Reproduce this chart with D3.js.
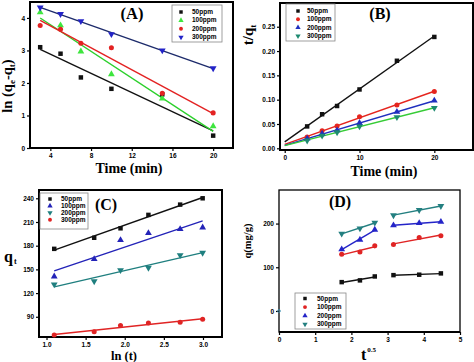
<!DOCTYPE html>
<html>
<head>
<meta charset="utf-8">
<script src="https://cdn.jsdelivr.net/npm/d3@7"></script>
<style>
  body { margin: 0; background: #fff; }
  .tick text { font-family: 'Liberation Sans', Arial, sans-serif; font-weight: bold; font-size: 6.5px; }
  .ttl { font-family: 'Liberation Serif', 'Times New Roman', serif; font-weight: bold; }
  .leg { font-family: 'Liberation Sans', Arial, sans-serif; font-weight: bold; font-size: 6.5px; }
</style>
</head>
<body>
<svg id="chart" width="474" height="362"></svg>
<script>

var names = [ '50ppm', '100ppm', '200ppm', '300ppm' ];

// contact times and their transforms
var times = [ 3, 5, 7, 10, 15, 20 ];
var lnTimes = [ 1.0986, 1.6094, 1.9459, 2.3026, 2.7081, 2.9957 ];
var sqrtTimes = [ 1.732, 2.236, 2.646, 3.162, 3.873, 4.472 ];

// (A) pseudo-first-order: ln(qe-qt)
var a50 = [ 3.10, 2.90, 2.17, 1.82, 1.65, 0.38 ];
var a100 = [ 4.17, 3.77, 2.97, 2.27, 1.52, 0.67 ];
var a200 = [ 3.77, 3.65, 3.22, 3.08, 1.68, 1.08 ];
var a300 = [ 4.32, 4.12, 3.90, 3.50, 3.00, 2.45 ];

// (B) pseudo-second-order: t/qt
var b50 = [ 0.045, 0.070, 0.087, 0.121, 0.180, 0.229 ];
var b100 = [ 0.023, 0.036, 0.046, 0.065, 0.089, 0.117 ];
var b200 = [ 0.020, 0.030, 0.037, 0.052, 0.075, 0.098 ];
var b300 = [ 0.016, 0.026, 0.033, 0.045, 0.064, 0.083 ];

// (C) Elovich: qt vs ln(t)
var c50 = [ 176, 190, 202, 219, 232, 240 ];
var c100 = [ 141, 163, 187, 196, 201, 203 ];
var c200 = [ 131, 135, 149, 152, 168, 171 ];
var c300 = [ 67, 71, 79, 82, 83, 87 ];

// (D) intraparticle diffusion: q vs t^0.5
var d50 = [ 66, 70, 79, 82, 83, 86 ];
var d100 = [ 130, 135, 149, 152, 168, 172 ];
var d200 = [ 141, 163, 186, 196, 201, 204 ];
var d300 = [ 177, 189, 202, 219, 231, 240 ];
var dOrigin = [ 0, 0 ];

var aTicksX = [ 4, 8, 12, 16, 20 ], aTicksY = [ 0, 1, 2, 3, 4 ];
var bTicksX = [ 0, 10, 20 ], bTicksY = [ 0, 0.05, 0.10, 0.15, 0.20, 0.25 ];
var cTicksX = [ 1.0, 1.5, 2.0, 2.5, 3.0 ], cTicksY = [ 90, 120, 150, 180, 210, 240 ];
var dTicksX = [ 0, 1, 2, 3, 4, 5 ], dTicksY = [ 0, 100, 200 ];

var svg = d3.select( '#chart' );

var sqr = d3.symbolSquare, cir = d3.symbolCircle, tri = d3.symbolTriangle;

function fit( xs, ys ) {
  var mx = d3.mean( xs ), my = d3.mean( ys );
  var sxy = d3.sum( xs, ( v, i ) => ( v - mx ) * ( ys[ i ] - my ) );
  var sxx = d3.sum( xs, v => ( v - mx ) * ( v - mx ) );
  var b = sxy / sxx;
  return v => my + b * ( v - mx );
}

function marker( sel, s, size ) {
  sel.attr( 'd', d3.symbol().type( s.sym ).size( size ) )
    .style( 'fill', s.color );
}

function panel( p ) {
  var g = svg.append( 'g' );

  var x = d3.scaleLinear().domain( p.xDomain ).range( [ p.left, p.right ] );
  var y = d3.scaleLinear().domain( p.yDomain ).range( [ p.bottom, p.top ] );

  g.append( 'g' )
    .attr( 'transform', 'translate(0,' + p.bottom + ')' )
    .call( d3.axisBottom( x ).tickValues( p.ticksX ).tickFormat( d3.format( p.fmtX ) )
      .tickSize( 3 ).tickSizeOuter( 0 ).tickPadding( 2 ) );

  g.append( 'g' )
    .attr( 'transform', 'translate(' + p.left + ',0)' )
    .call( d3.axisLeft( y ).tickValues( p.ticksY ).tickFormat( d3.format( p.fmtY ) )
      .tickSize( 3 ).tickSizeOuter( 0 ).tickPadding( 2 ) );

  g.selectAll( '.domain' ).remove();
  g.selectAll( '.tick line' ).attr( 'stroke', '#000' ).attr( 'stroke-width', 1.2 );

  g.append( 'rect' )
    .attr( 'x', p.left ).attr( 'y', p.top )
    .attr( 'width', p.right - p.left ).attr( 'height', p.bottom - p.top )
    .attr( 'fill', 'none' ).attr( 'stroke', '#000' ).attr( 'stroke-width', p.frame );

  // fitted lines
  p.series.forEach( s => {
    p.segments.forEach( seg => {
      var xs = seg.map( i => s.xs[ i ] ), ys = seg.map( i => s.ys[ i ] );
      var f = fit( xs, ys );
      var x0 = p.lineFrom != null ? p.lineFrom : xs[ 0 ], x1 = xs[ xs.length - 1 ];
      g.append( 'line' )
        .attr( 'x1', x( x0 ) ).attr( 'y1', y( f( x0 ) ) )
        .attr( 'x2', x( x1 ) ).attr( 'y2', y( f( x1 ) ) )
        .attr( 'stroke', s.line || s.color ).attr( 'stroke-width', 1.4 );
    } );
  } );

  // points
  p.series.forEach( s => {
    g.selectAll( null )
      .data( s.ys )
      .enter().append( 'path' )
        .attr( 'transform', ( d, i ) => 'translate(' + x( s.xs[ i ] ) + ',' + y( d ) + ')' + ( s.down ? ' rotate(180)' : '' ) )
        .call( marker, s, 20 );
  } );

  if ( p.extra ) {
    g.append( 'circle' )
      .attr( 'cx', x( p.extra[ 0 ] ) ).attr( 'cy', y( p.extra[ 1 ] ) )
      .attr( 'r', 1.4 ).attr( 'fill', 'none' ).attr( 'stroke', '#3a8fb0' ).attr( 'stroke-width', 0.8 );
  }

  /* Legend */
  var L = p.legend;
  g.append( 'rect' )
    .attr( 'x', L.box[ 0 ] ).attr( 'y', L.box[ 1 ] )
    .attr( 'width', L.box[ 2 ] - L.box[ 0 ] ).attr( 'height', L.box[ 3 ] - L.box[ 1 ] )
    .attr( 'fill', '#fff' ).attr( 'stroke', '#888' ).attr( 'stroke-width', 0.8 );

  var items = g.selectAll( '.legitem' )
    .data( p.series )
    .enter().append( 'g' )
      .attr( 'transform', ( d, i ) => 'translate(0,' + ( L.y0 + i * L.step ) + ')' );

  items.append( 'path' )
    .attr( 'transform', d => 'translate(' + L.mx + ',-2)' + ( d.down ? ' rotate(180)' : '' ) )
    .each( function( d ) { marker( d3.select( this ), d, 12 ); } );

  items.append( 'text' )
    .attr( 'class', 'leg' )
    .attr( 'x', L.tx )
    .text( d => d.name );

  return g;
}

function series( xs, list, cols, syms, downs, lines ) {
  return list.map( ( ys, i ) => ( {
    name: names[ i ], xs: xs, ys: ys, color: cols[ i ], sym: syms[ i ],
    down: downs[ i ], line: lines ? lines[ i ] : null
  } ) );
}

var all6 = [ [ 0, 1, 2, 3, 4, 5 ] ];

/* (A) */
var gA = panel( {
  left: 30, right: 233, top: 2, bottom: 148,
  xDomain: [ 2, 21.95 ], yDomain: [ 0, 4.49 ],
  ticksX: aTicksX, ticksY: aTicksY, fmtX: 'd', fmtY: 'd', frame: 2,
  segments: all6,
  series: series( times, [ a50, a100, a200, a300 ],
    [ '#111', '#3ee63e', '#e32222', '#2323c8' ],
    [ sqr, tri, cir, tri ], [ false, false, false, true ],
    [ '#111', '#2bd02b', '#e32222', '#1d2b6b' ] ),
  legend: { box: [ 172, 5, 222, 42 ], y0: 14, step: 8.4, mx: 181, tx: 192 }
} );

gA.append( 'text' ).attr( 'class', 'ttl' ).attr( 'x', 132 ).attr( 'y', 19 )
  .attr( 'text-anchor', 'middle' ).style( 'font-size', '16.5px' ).text( '(A)' );
gA.append( 'text' ).attr( 'class', 'ttl' ).attr( 'x', 129 ).attr( 'y', 173 )
  .attr( 'text-anchor', 'middle' ).style( 'font-size', '14px' ).text( 'Time (min)' );
var ya = gA.append( 'text' ).attr( 'class', 'ttl' )
  .attr( 'transform', 'translate(12,86) rotate(-90)' )
  .attr( 'text-anchor', 'middle' ).style( 'font-size', '14.5px' );
ya.append( 'tspan' ).text( 'ln (q' );
ya.append( 'tspan' ).attr( 'dy', 3 ).style( 'font-size', '9px' ).text( 'e' );
ya.append( 'tspan' ).attr( 'dy', -3 ).text( '-q' );
ya.append( 'tspan' ).attr( 'dy', 3 ).style( 'font-size', '9px' ).text( 't' );
ya.append( 'tspan' ).attr( 'dy', -3 ).text( ')' );

/* (B) */
var gB = panel( {
  left: 280, right: 473, top: 3, bottom: 150,
  xDomain: [ -0.63, 25.17 ], yDomain: [ -0.0035, 0.2988 ],
  ticksX: bTicksX, ticksY: bTicksY, fmtX: 'd', fmtY: '.2f', frame: 2,
  segments: all6, lineFrom: 0,
  series: series( times, [ b50, b100, b200, b300 ],
    [ '#111', '#e5251e', '#1f2fbf', '#1d8a70' ],
    [ sqr, cir, tri, tri ], [ false, false, false, true ],
    [ '#111', '#e5251e', '#1f2fbf', '#36cc36' ] ),
  legend: { box: [ 286, 4, 335, 41 ], y0: 13, step: 8.3, mx: 298, tx: 307 }
} );

gB.append( 'text' ).attr( 'class', 'ttl' ).attr( 'x', 380 ).attr( 'y', 18.5 )
  .attr( 'text-anchor', 'middle' ).style( 'font-size', '16px' ).text( '(B)' );
gB.append( 'text' ).attr( 'class', 'ttl' ).attr( 'x', 384 ).attr( 'y', 176 )
  .attr( 'text-anchor', 'middle' ).style( 'font-size', '14px' ).text( 'Time (min)' );
var yb = gB.append( 'text' ).attr( 'class', 'ttl' )
  .attr( 'transform', 'translate(253,35) rotate(-90)' )
  .attr( 'text-anchor', 'middle' ).style( 'font-size', '15px' );
yb.append( 'tspan' ).text( 't/q' );
yb.append( 'tspan' ).attr( 'dy', 3 ).style( 'font-size', '9px' ).text( 't' );

/* (C) */
var gC = panel( {
  left: 39, right: 222, top: 190, bottom: 337,
  xDomain: [ 0.904, 3.243 ], yDomain: [ 64.4, 250.5 ],
  ticksX: cTicksX, ticksY: cTicksY, fmtX: '.1f', fmtY: 'd', frame: 2,
  segments: all6,
  series: series( lnTimes, [ c50, c100, c200, c300 ],
    [ '#111', '#2323b8', '#1f7f7f', '#e02424' ],
    [ sqr, tri, tri, cir ], [ false, false, true, false ] ),
  legend: { box: [ 40, 193, 88, 229 ], y0: 201, step: 6.9, mx: 50, tx: 61 }
} );

gC.append( 'text' ).attr( 'class', 'ttl' ).attr( 'x', 106 ).attr( 'y', 210 )
  .attr( 'text-anchor', 'middle' ).style( 'font-size', '16px' ).text( '(C)' );
gC.append( 'text' ).attr( 'class', 'ttl' ).attr( 'x', 124 ).attr( 'y', 359.5 )
  .attr( 'text-anchor', 'middle' ).style( 'font-size', '12.5px' ).text( 'ln (t)' );
var yc = gC.append( 'text' ).attr( 'class', 'ttl' )
  .attr( 'x', 4 ).attr( 'y', 262 ).style( 'font-size', '16px' );
yc.append( 'tspan' ).text( 'q' );
yc.append( 'tspan' ).attr( 'dx', 1 ).attr( 'dy', 2 ).style( 'font-size', '8px' ).text( 't' );

/* (D) */
var gD = panel( {
  left: 279, right: 460, top: 190, bottom: 332,
  xDomain: [ 0, 5 ], yDomain: [ -48.1, 276.8 ],
  ticksX: dTicksX, ticksY: dTicksY, fmtX: 'd', fmtY: 'd', frame: 1.3,
  segments: [ [ 0, 1, 2 ], [ 3, 4, 5 ] ], extra: dOrigin,
  series: series( sqrtTimes, [ d50, d100, d200, d300 ],
    [ '#111', '#e02424', '#2424c8', '#237f80' ],
    [ sqr, cir, tri, tri ], [ false, false, false, true ] ),
  legend: { box: [ 295, 293, 346, 329 ], y0: 300.5, step: 8.6, mx: 305, tx: 317 }
} );

gD.append( 'line' ).attr( 'x1', 279 ).attr( 'x2', 460 ).attr( 'y1', 332 ).attr( 'y2', 332 )
  .attr( 'stroke', '#000' ).attr( 'stroke-width', 2 );
gD.append( 'text' ).attr( 'class', 'ttl' ).attr( 'x', 340 ).attr( 'y', 207 )
  .attr( 'text-anchor', 'middle' ).style( 'font-size', '16px' ).text( '(D)' );
gD.append( 'text' ).attr( 'class', 'ttl' )
  .attr( 'transform', 'translate(251,241) rotate(-90)' )
  .attr( 'text-anchor', 'middle' ).style( 'font-size', '10.5px' ).text( 'q(mg/g)' );
var xd = gD.append( 'text' ).attr( 'class', 'ttl' )
  .attr( 'x', 361 ).attr( 'y', 360 ).style( 'font-size', '16px' );
xd.append( 'tspan' ).text( 't' );
xd.append( 'tspan' ).attr( 'dy', -8 ).attr( 'dx', 1 ).style( 'font-size', '7px' ).text( '0.5' );

</script>
</body>
</html>
